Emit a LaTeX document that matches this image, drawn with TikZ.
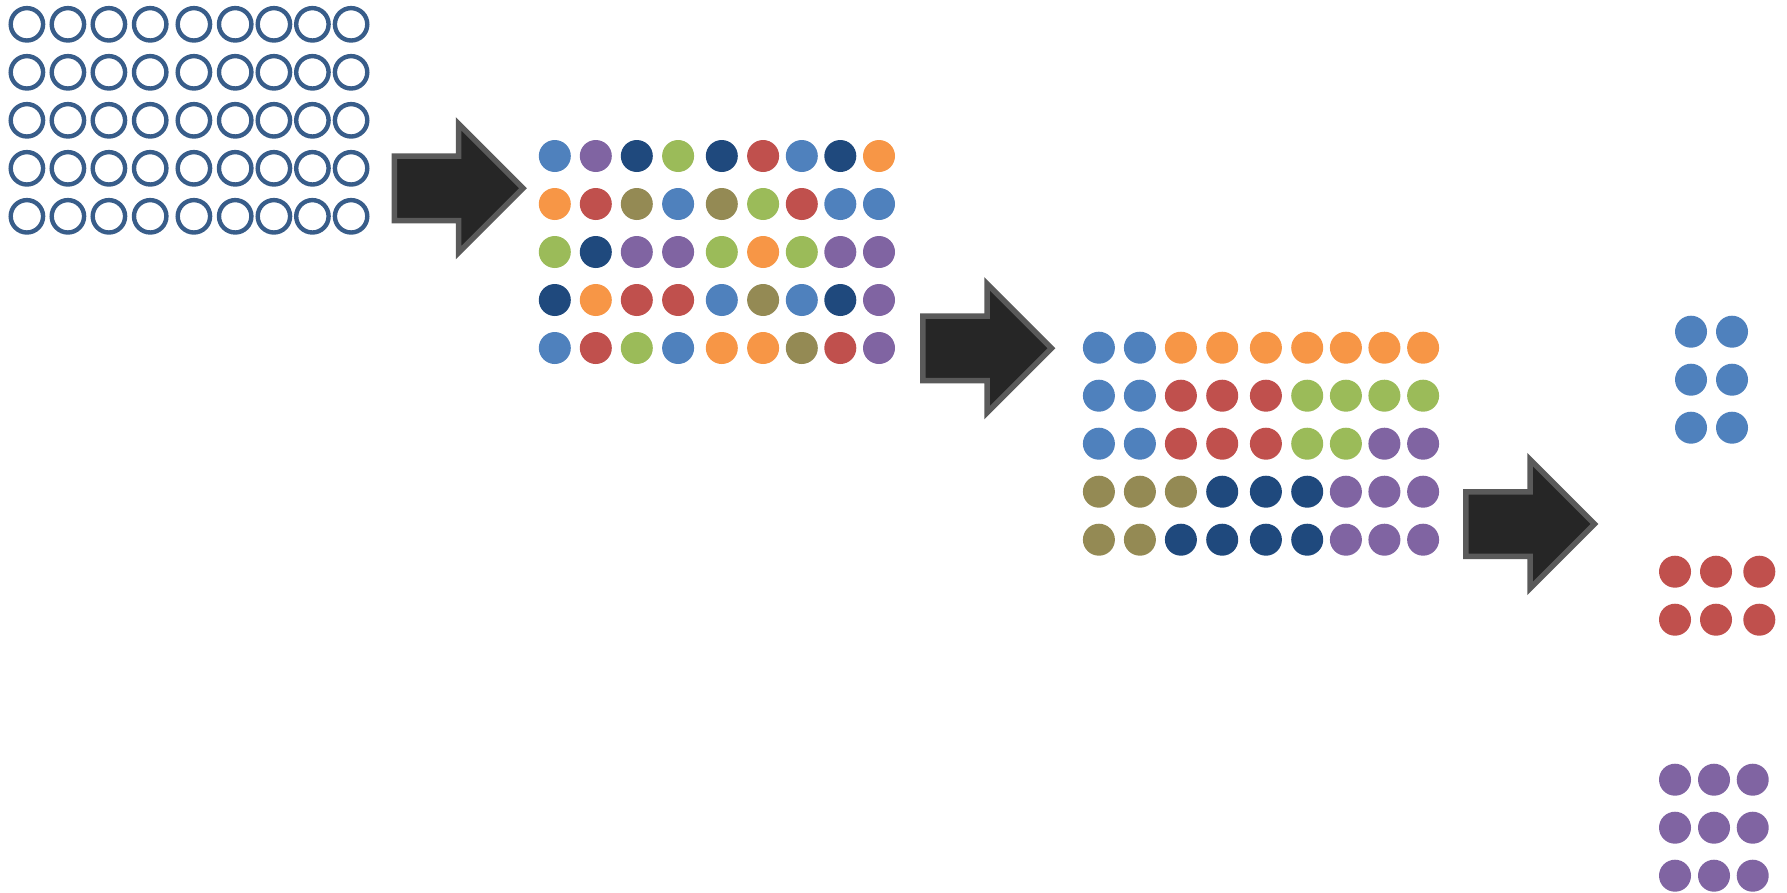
\documentclass[tikz,border=0pt]{standalone}
\definecolor{cb}{HTML}{4F81BD}
\definecolor{cp}{HTML}{8064A2}
\definecolor{cd}{HTML}{1F497D}
\definecolor{cg}{HTML}{9BBB59}
\definecolor{cr}{HTML}{C0504D}
\definecolor{co}{HTML}{F79646}
\definecolor{cl}{HTML}{948A54}
\definecolor{ringblue}{HTML}{385D8A}
\definecolor{arrowfill}{HTML}{262626}
\definecolor{arrowedge}{HTML}{5A5A5A}
\begin{document}
\begin{tikzpicture}[x=1pt,y=-1pt,
  dot/.style={circle,inner sep=0pt,minimum size=32pt,draw=none},
  ring/.style={circle,inner sep=0pt,minimum size=32.4pt,draw=ringblue,line width=4.4pt},
  arrowshape/.style={fill=arrowfill,draw=arrowedge,line width=5.5pt,line join=miter},
  pics/fatarrow/.style={code={
    \draw[arrowshape] (-132.25,-32.25) -- (-68,-32.25) -- (-68,-64.5) -- (-3.5,0)
      -- (-68,64.5) -- (-68,32.25) -- (-132.25,32.25) -- cycle;}}]
\useasboundingbox (0,0) rectangle (1787,892);
\def\colxs{{0,41,82,123.3,167,208.3,247,285.5,324.2}}
% grid 1: rings
\foreach \r in {1,...,5}{
  \foreach \c in {1,...,9}{
    \pgfmathsetmacro\dx{\colxs[\c-1]}
    \node[ring] (a-\r-\c) at (26.9+\dx, 24.3+48*\r-48) {};
  }
}
% grid 2: mixed colours
\foreach \row [count=\r] in {
  {cb,cp,cd,cg,cd,cr,cb,cd,co},
  {co,cr,cl,cb,cl,cg,cr,cb,cb},
  {cg,cd,cp,cp,cg,co,cg,cp,cp},
  {cd,co,cr,cr,cb,cl,cb,cd,cp},
  {cb,cr,cg,cb,co,co,cl,cr,cp}}{
  \foreach \col [count=\c] in \row{
    \pgfmathsetmacro\dx{\colxs[\c-1]}
    \node[dot,fill=\col] (b-\r-\c) at (554.8+\dx, 156+48*\r-48) {};
  }
}
% grid 3: sorted
\foreach \row [count=\r] in {
  {cb,cb,co,co,co,co,co,co,co},
  {cb,cb,cr,cr,cr,cg,cg,cg,cg},
  {cb,cb,cr,cr,cr,cg,cg,cp,cp},
  {cl,cl,cl,cd,cd,cd,cp,cp,cp},
  {cl,cl,cd,cd,cd,cd,cp,cp,cp}}{
  \foreach \col [count=\c] in \row{
    \pgfmathsetmacro\dx{\colxs[\c-1]}
    \node[dot,fill=\col] (c-\r-\c) at (1098.9+\dx, 347.7+48*\r-48) {};
  }
}
% grid 4: groups
\foreach \y [count=\r] in {331.7,379.7,427.7}{
  \foreach \x [count=\c] in {1691,1732}{
    \node[dot,fill=cb] (db-\r-\c) at (\x,\y) {};
  }
}
\foreach \y [count=\r] in {571.7,619.7}{
  \foreach \x [count=\c] in {1675,1716,1759.3}{
    \node[dot,fill=cr] (dr-\r-\c) at (\x,\y) {};
  }
}
\foreach \y [count=\r] in {779.7,827.7,875.7}{
  \foreach \x [count=\c] in {1675,1714,1752.7}{
    \node[dot,fill=cp] (dp-\r-\c) at (\x,\y) {};
  }
}
% arrows
\pic at (526.5,188.3) {fatarrow};
\pic at (1055,348.3) {fatarrow};
\pic at (1598,524) {fatarrow};
\end{tikzpicture}
\end{document}
